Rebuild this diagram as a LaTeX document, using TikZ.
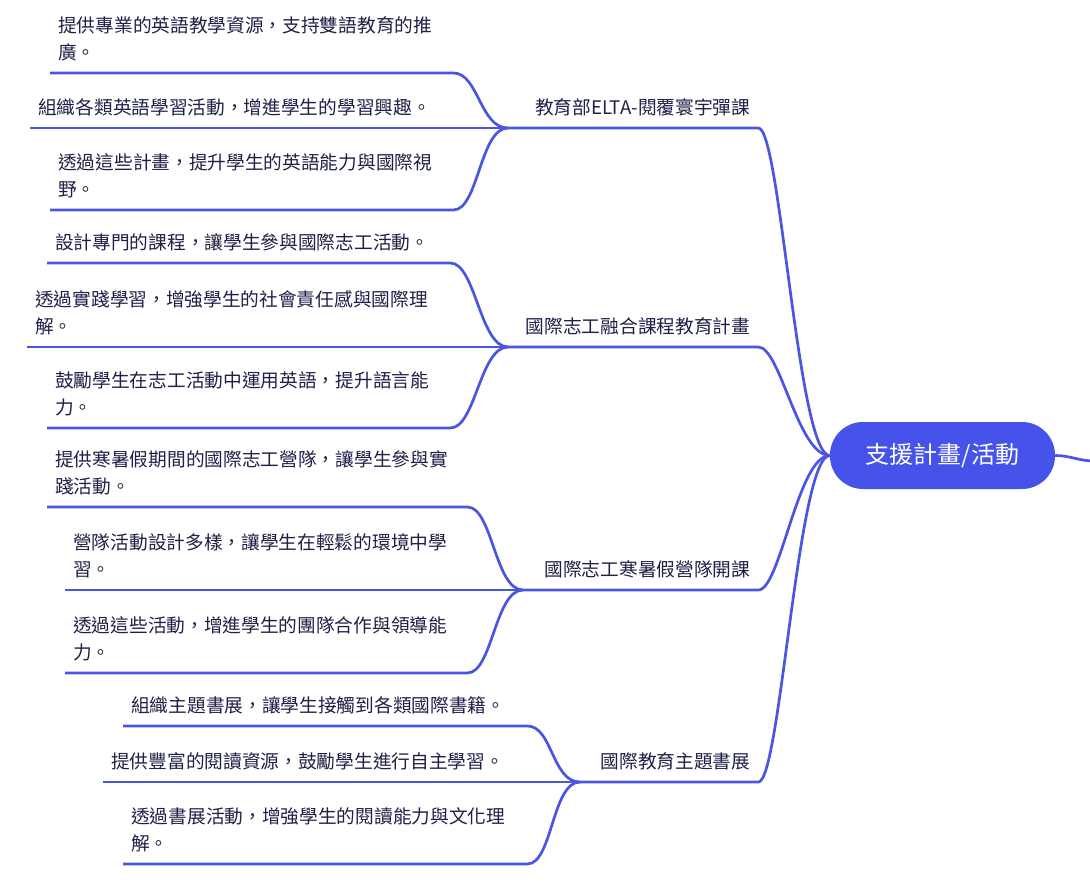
\documentclass[tikz,border=0pt]{standalone}
\usepackage{fontspec}
\setmainfont{Noto Sans CJK TC}
\usetikzlibrary{positioning}

\definecolor{lienbleu}{HTML}{4A55E2}
\definecolor{racinebleu}{HTML}{4553EA}
\definecolor{encre}{HTML}{1E2046}

\begin{document}
\begin{tikzpicture}[x=1pt,y=-1pt]
\tikzstyle{racine}=[
        rectangle,
        rounded corners=33pt,
        fill=racinebleu,
        text=white,
        minimum width=225pt,
        minimum height=67pt,
        inner sep=0pt,
        font=\fontsize{24}{28}\selectfont
]
\tikzstyle{theme}=[anchor=south west,align=right,text=encre,inner xsep=8pt,inner ysep=12pt,
font=\fontsize{18.7}{26.5}\selectfont]
\tikzstyle{detail}=[anchor=south west,align=left,text=encre,inner xsep=8pt,inner ysep=12pt,
font=\fontsize{18.7}{26.5}\selectfont]
%styledesliens
\tikzstyle{lien}=[draw=lienbleu,line width=2.7pt]
\useasboundingbox (0,0) rectangle (1090,883);
%placementdesnœuds
\node[racine] (soutien) at (942.5,455.5) {支援計畫/活動};
\coordinate (horspage) at (1094,461);
\node[theme,text width=234pt] (elta) at (508,128) {教育部ELTA-閱覆寰宇彈課};
\node[theme,text width=234pt] (volontariat) at (508,347) {國際志工融合課程教育計畫};
\node[theme,text width=219pt] (camp) at (523,590) {國際志工寒暑假營隊開課};
\node[theme,text width=162pt] (livres) at (580,782) {國際教育主題書展};
\node[detail,text width=387pt] (elta1) at (50,73) {提供專業的英語教學資源，支持雙語教育的推\\廣。};
\node[detail,text width=462pt] (elta2) at (30,128) {組織各類英語學習活動，增進學生的學習興趣。};
\node[detail,text width=387pt] (elta3) at (50,210) {透過這些計畫，提升學生的英語能力與國際視\\野。};
\node[detail,text width=387pt] (volontariat1) at (47,263) {設計專門的課程，讓學生參與國際志工活動。};
\node[detail,text width=465pt] (volontariat2) at (27,347) {透過實踐學習，增強學生的社會責任感與國際理\\解。};
\node[detail,text width=387pt] (volontariat3) at (47,428) {鼓勵學生在志工活動中運用英語，提升語言能\\力。};
\node[detail,text width=404pt] (camp1) at (47,507) {提供寒暑假期間的國際志工營隊，讓學生參與實\\踐活動。};
\node[detail,text width=442pt] (camp2) at (65,590) {營隊活動設計多樣，讓學生在輕鬆的環境中學\\習。};
\node[detail,text width=386pt] (camp3) at (65,673) {透過這些活動，增進學生的團隊合作與領導能\\力。};
\node[detail,text width=388pt] (livres1) at (123,726) {組織主題書展，讓學生接觸到各類國際書籍。};
\node[detail,text width=461pt] (livres2) at (103,782) {提供豐富的閱讀資源，鼓勵學生進行自主學習。};
\node[detail,text width=388pt] (livres3) at (123,864) {透過書展活動，增強學生的閱讀能力與文化理\\解。};
%placementdesliens
\foreach \t in {elta,volontariat,camp,livres}{
  \draw[lien] (\t.south west) -- (\t.south east) .. controls +(22,0) and +(-32,0) .. (soutien.west);
  \draw[lien] (\t1.south west) -- (\t1.south east) .. controls +(25,0) and +(-28,0) .. (\t.south west);
  \draw[lien] (\t2.south west) -- (\t2.south east) -- (\t.south west);
  \draw[lien] (\t3.south west) -- (\t3.south east) .. controls +(25,0) and +(-28,0) .. (\t.south west);
}
\draw[lien] (soutien.east) .. controls +(15,0) and +(-15,0) .. (horspage);
\end{tikzpicture}
\end{document}
